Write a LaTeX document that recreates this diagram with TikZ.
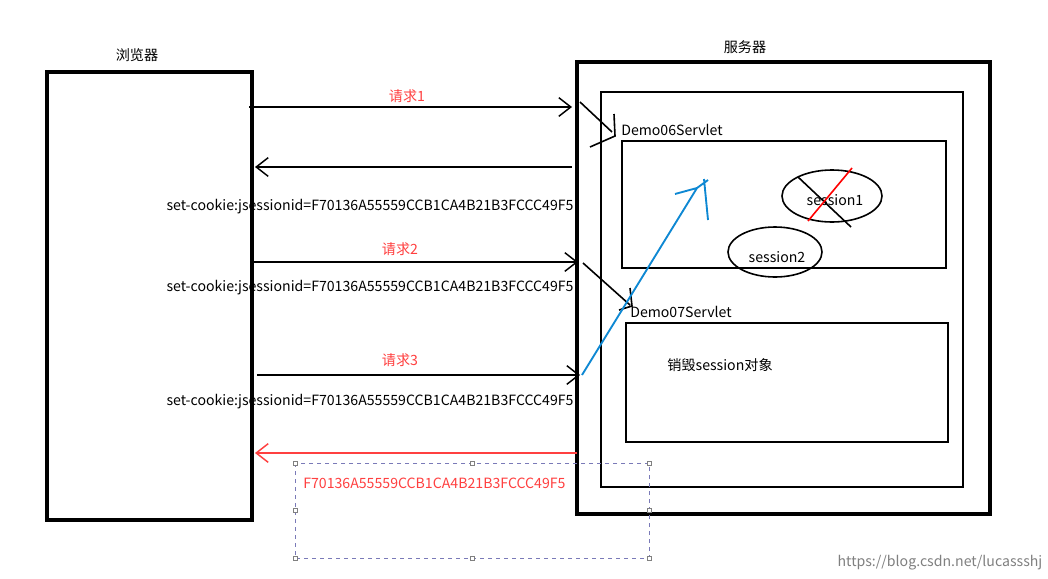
\documentclass[tikz,border=0pt]{standalone}
\usepackage{fontspec}
\setmainfont{Noto Sans CJK SC}
\usetikzlibrary{arrows.meta}
\begin{document}
\begin{tikzpicture}[x=0.75pt,y=-0.75pt,
  box/.style={draw,line width=2.4pt},
  inbox/.style={draw,line width=1.4pt},
  req/.style={line width=1.1pt,-{Straight Barb[length=9pt,width=14pt]}},
  lbl/.style={font=\fontsize{10.6}{12}\selectfont,inner sep=0pt},
  red lbl/.style={lbl,text=red!75!white}]
\useasboundingbox[fill=white] (0,0) rectangle (1048,578);
\node[lbl] (tb) at (137,55) {浏览器};
\node[lbl] (ts) at (745,47) {服务器};
\draw[box] (47,72) rectangle (252,520);
\draw[box] (577,62) rectangle (990,514);
\draw[inbox] (601,92) rectangle (963,487);
\draw[inbox] (622,141) rectangle (946,268);
\draw[inbox] (626,323) rectangle (948,442);
\node[lbl,anchor=west] (d6) at (621,130) {Demo06Servlet};
\node[lbl,anchor=west] (d7) at (630,312) {Demo07Servlet};
\coordinate (a1) at (249,107); \coordinate (b1) at (572,107);
\draw[req] (a1) -- (b1);
\node[red lbl] at (407,96) {请求1};
\coordinate (a0) at (572,167); \coordinate (b0) at (255,167);
\draw[req] (a0) -- (b0);
\node[lbl] at (370,207) {set-cookie:jsessionid=F70136A55559CCB1CA4B21B3FCCC49F5};
\coordinate (a2) at (254,262); \coordinate (b2) at (578,262);
\draw[req] (a2) -- (b2);
\node[red lbl] at (400,249) {请求2};
\node[lbl] at (370,288) {set-cookie:jsessionid=F70136A55559CCB1CA4B21B3FCCC49F5};
\coordinate (a3) at (257,375); \coordinate (b3) at (580,375);
\draw[req] (a3) -- (b3);
\node[red lbl] at (400,360) {请求3};
\node[lbl] at (370,402) {set-cookie:jsessionid=F70136A55559CCB1CA4B21B3FCCC49F5};
\coordinate (a4) at (577,453); \coordinate (b4) at (255,453);
\draw[req,red!75!white] (a4) -- (b4);
\node[red lbl,anchor=west] at (303,483) {F70136A55559CCB1CA4B21B3FCCC49F5};
\draw[dashed,draw=blue!30!gray!80,line width=0.6pt] (295,463) rectangle (649,558);
\foreach \p in {(295,463),(472,463),(649,463),(295,510),(649,510),(295,558),(472,558),(649,558)}
  \draw[gray,fill=white,line width=0.4pt] \p ++(-2,-2) rectangle ++(4,4);
% hand arrows
\draw[line width=1.2pt] (580,102) -- (612,132) (614,114) -- (615,136) -- (590,147);
\draw[line width=1.2pt] (583,263) -- (630,305) (630,288) -- (632,306) -- (619,310);
% blue arrow
\draw[line width=1.4pt,draw=cyan!70!blue] (582,375) -- (697,188) (675,194) -- (697,188) -- (708,180) (704,179) -- (708,220);
% sessions
\draw[line width=1.2pt] (832,196) ellipse (50 and 26);
\node[lbl] at (835,200) {session1};
\draw[line width=1.2pt] (798,177) -- (851,227);
\draw[line width=1.2pt,red] (808,221) -- (852,168);
\draw[line width=1.2pt] (775,252) ellipse (47 and 25);
\node[lbl] at (777,257) {session2};
\node[lbl] at (720,365) {销毁session对象};
\node[lbl,text=gray] at (940,563) {https://blog.csdn.net/lucassshj};
\end{tikzpicture}
\end{document}
